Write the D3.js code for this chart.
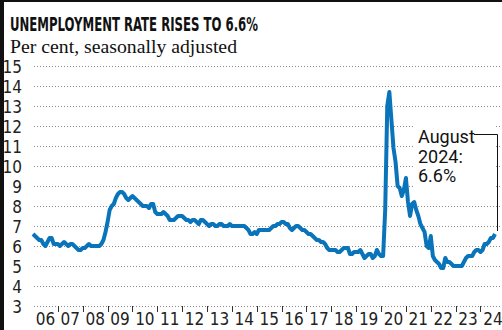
<!DOCTYPE html>
<html><head><meta charset="utf-8">
<script src="https://cdn.jsdelivr.net/npm/d3@7"></script>
<style>
html,body{margin:0;padding:0;background:#fff;}
svg{display:block;}
</style></head>
<body>
<svg id="chart" width="502" height="330"></svg>
<script>
// ---- data (Canada, monthly unemployment rate, % SA) ----
const startYear = 2006;
const title = "UNEMPLOYMENT RATE RISES TO 6.6%";
const subtitle = "Per cent, seasonally adjusted";
const annotationLines = ["August", "2024:", "6.6%"];
const yTicks = [3,4,5,6,7,8,9,10,11,12,13,14,15];
const tickYears = d3.range(2006, 2025);
const rate2006 = [6.6,6.5,6.4,6.3,6.3,6.1,6.0,6.2,6.4,6.4,6.1,6.1];
const rate2007 = [6.1,6.0,6.1,6.2,6.1,6.0,6.1,6.1,6.0,5.9,5.8,5.8];
const rate2008 = [5.9,5.9,6.0,6.1,6.0,6.0,6.0,6.0,6.0,6.1,6.3,6.7];
const rate2009 = [7.2,7.8,8.0,8.1,8.4,8.6,8.7,8.7,8.6,8.4,8.3,8.4];
const rate2010 = [8.5,8.4,8.3,8.2,8.1,8.0,8.0,8.0,7.9,8.1,8.1,7.7];
const rate2011 = [7.6,7.6,7.6,7.7,7.6,7.5,7.3,7.3,7.3,7.4,7.5,7.5];
const rate2012 = [7.5,7.4,7.3,7.3,7.2,7.3,7.3,7.2,7.1,7.3,7.3,7.2];
const rate2013 = [7.1,7.0,7.1,7.1,7.0,7.0,7.1,7.1,7.0,7.0,7.0,7.1];
const rate2014 = [7.0,7.0,7.0,7.0,7.0,7.0,7.0,6.9,6.8,6.6,6.6,6.7];
const rate2015 = [6.6,6.8,6.8,6.8,6.8,6.8,6.8,6.9,7.0,7.0,7.1,7.1];
const rate2016 = [7.2,7.2,7.1,7.1,6.9,6.8,6.9,7.0,7.0,6.9,6.8,6.8];
const rate2017 = [6.7,6.6,6.6,6.5,6.4,6.3,6.3,6.2,6.2,6.1,5.9,5.8];
const rate2018 = [5.8,5.8,5.8,5.7,5.7,5.8,5.9,5.9,5.9,5.6,5.6,5.7];
const rate2019 = [5.7,5.7,5.8,5.6,5.4,5.5,5.6,5.6,5.4,5.5,5.8,5.6];
const rate2020 = [5.5,5.5,7.8,13.0,13.7,12.3,10.9,10.2,9.0,8.9,8.5,8.8];
const rate2021 = [9.4,8.2,7.5,8.1,8.2,7.8,7.5,7.1,6.9,6.7,6.0,5.9];
const rate2022 = [6.5,5.5,5.3,5.2,5.1,4.9,4.9,5.4,5.2,5.2,5.1,5.0];
const rate2023 = [5.0,5.0,5.0,5.0,5.2,5.4,5.5,5.5,5.5,5.7,5.8,5.8];
const rate2024 = [5.7,5.8,6.1,6.1,6.2,6.4,6.4,6.6];

const allYears = [rate2006,rate2007,rate2008,rate2009,rate2010,rate2011,rate2012,rate2013,
  rate2014,rate2015,rate2016,rate2017,rate2018,rate2019,rate2020,rate2021,rate2022,rate2023,rate2024];
const series = [];
allYears.forEach((arr, yi) => arr.forEach((v, mi) => series.push({t: startYear + yi + mi/12, v})));
const last = series[series.length-1];

// ---- layout ----
const svg = d3.select("#chart");
const x = d3.scaleLinear().domain([2006, last.t]).range([33, 495]);
const y = d3.scaleLinear().domain([3, 15]).range([306, 66]);

// frame
svg.append("rect").attr("x",0).attr("y",0).attr("width",502).attr("height",2).attr("fill","#111");
svg.append("rect").attr("x",0).attr("y",0).attr("width",4).attr("height",330).attr("fill","#111");

// title
svg.append("text").attr("x",10).attr("y",31)
  .attr("font-family","'Liberation Sans Narrow','DejaVu Sans Condensed',sans-serif")
  .attr("font-weight","bold").attr("font-size",19).attr("fill","#111")
  .attr("textLength",248).attr("lengthAdjust","spacingAndGlyphs")
  .text(title);
svg.append("text").attr("x",10).attr("y",53)
  .attr("font-family","'Liberation Serif','DejaVu Serif',serif")
  .attr("font-size",19).attr("fill","#111")
  .attr("textLength",227).attr("lengthAdjust","spacingAndGlyphs")
  .text(subtitle);

const axisFont = "'Liberation Sans Narrow','DejaVu Sans Condensed',sans-serif";

// gridlines
svg.append("g").selectAll("line").data(yTicks).join("line")
  .attr("x1",34).attr("x2",501)
  .attr("y1",d=>y(d)+0.5).attr("y2",d=>y(d)+0.5)
  .attr("stroke","#8a8a8a").attr("stroke-width",1).attr("stroke-dasharray","1,2");

// y labels
svg.append("g").selectAll("text").data(yTicks).join("text")
  .attr("x",22).attr("y",d=>y(d)+1).attr("dy","0.35em")
  .attr("text-anchor","end").attr("font-family",axisFont).attr("font-size",17).attr("fill","#222")
  .text(d=>d);

// x ticks
svg.append("g").selectAll("line").data(tickYears.slice(1)).join("line")
  .attr("x1",d=>Math.round(x(d))+0.5).attr("x2",d=>Math.round(x(d))+0.5)
  .attr("y1",y(3)).attr("y2",y(3)+6)
  .attr("stroke","#333").attr("stroke-width",1);
svg.append("g").selectAll("text").data(tickYears).join("text")
  .attr("x",d=>x(d+0.5)).attr("y",325)
  .attr("text-anchor","middle").attr("font-family",axisFont).attr("font-size",17).attr("fill","#222")
  .text(d=>d3.format("02d")(d%100));

// line
svg.append("path").datum(series)
  .attr("d", d3.line().x(d=>x(d.t)).y(d=>y(d.v)))
  .attr("fill","none").attr("stroke","#0a74bb").attr("stroke-width",4)
  .attr("stroke-linejoin","round");

// annotation
svg.append("rect").attr("x",414).attr("y",120).attr("width",80).attr("height",70).attr("fill","#fff");
svg.append("g").selectAll("text").data(annotationLines).join("text")
  .attr("x",418).attr("y",(d,i)=>143+i*19.5)
  .attr("font-family","Roboto,'Liberation Sans',sans-serif").attr("font-size",18).attr("fill","#111")
  .text(d=>d);
const lx = Math.round(x(last.t)) + 2.5;
svg.append("path")
  .attr("d", `M474,134.5H${lx}V${y(last.v)-3}`)
  .attr("fill","none").attr("stroke","#111").attr("stroke-width",1);
</script>
</body></html>
